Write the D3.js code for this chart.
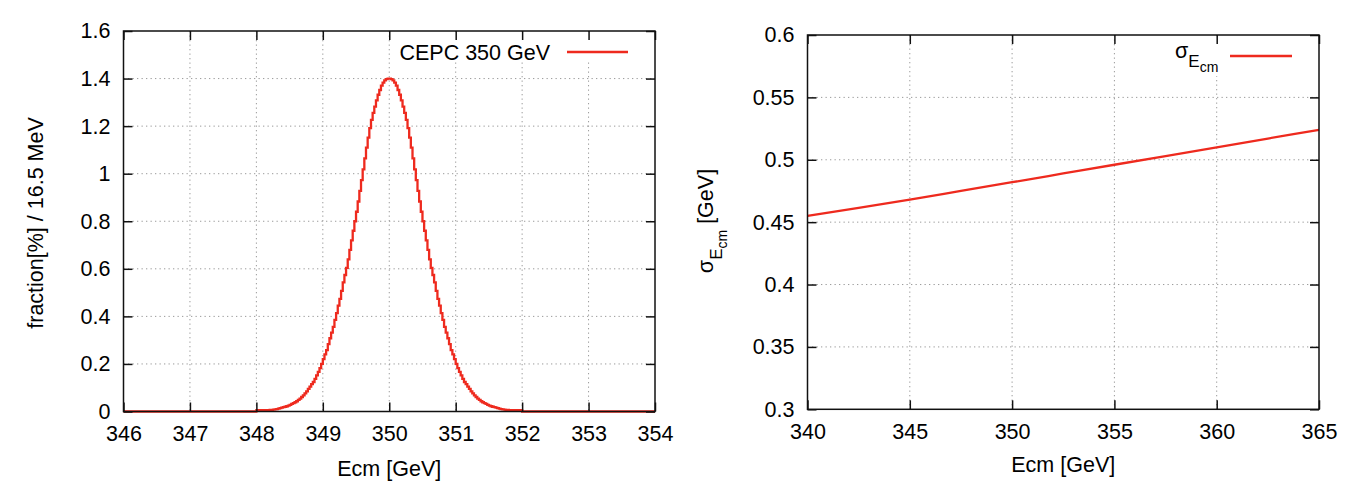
<!DOCTYPE html>
<html>
<head>
<meta charset="utf-8">
<script src="https://cdn.jsdelivr.net/npm/d3@7"></script>
<style>
  html, body { margin: 0; padding: 0; background: #fff; }
  svg text { font-family: "Liberation Sans", Arial, Helvetica, sans-serif; fill: #000; }
</style>
</head>
<body>
<svg id="chart" width="1361" height="484"></svg>
<script>
// ---------------- data ----------------
// Left panel: energy-spread histogram (fraction [%] per bin), bins start at 348.000 GeV, 0.025 GeV wide
const histBinStart = 348.0;
const histBinWidth = 0.025;
const histValues = [
  0.006, 0.006, 0.006, 0.006, 0.006, 0.006, 0.006, 0.006, 0.007, 0.007,
  0.008, 0.009, 0.010, 0.012, 0.014, 0.016, 0.018, 0.020, 0.022, 0.025,
  0.028, 0.032, 0.035, 0.039, 0.043, 0.049, 0.054, 0.061, 0.068, 0.076,
  0.085, 0.095, 0.105, 0.115, 0.124, 0.137, 0.152, 0.167, 0.182, 0.200,
  0.220, 0.240, 0.258, 0.283, 0.308, 0.332, 0.356, 0.385, 0.414, 0.445,
  0.474, 0.507, 0.543, 0.574, 0.604, 0.640, 0.680, 0.720, 0.760, 0.800,
  0.840, 0.883, 0.928, 0.973, 1.018, 1.064, 1.110, 1.152, 1.192, 1.226,
  1.256, 1.282, 1.308, 1.332, 1.352, 1.370, 1.383, 1.392, 1.398, 1.400,
  1.400, 1.398, 1.392, 1.383, 1.370, 1.352, 1.332, 1.308, 1.282, 1.256,
  1.226, 1.192, 1.152, 1.110, 1.064, 1.018, 0.973, 0.928, 0.883, 0.840,
  0.800, 0.760, 0.720, 0.680, 0.640, 0.604, 0.574, 0.543, 0.507, 0.474,
  0.445, 0.414, 0.385, 0.356, 0.332, 0.308, 0.283, 0.258, 0.240, 0.220,
  0.200, 0.182, 0.167, 0.152, 0.137, 0.124, 0.115, 0.105, 0.095, 0.085,
  0.076, 0.068, 0.061, 0.054, 0.049, 0.043, 0.039, 0.035, 0.032, 0.028,
  0.025, 0.022, 0.020, 0.018, 0.016, 0.014, 0.012, 0.010, 0.009, 0.008,
  0.007, 0.007, 0.006, 0.006, 0.006, 0.006, 0.006, 0.006, 0.006, 0.006
];
const leftXDomain = [346, 354];
const leftYDomain = [0, 1.6];
const leftXTicks = [346, 347, 348, 349, 350, 351, 352, 353, 354];
const leftYTicks = [0, 0.2, 0.4, 0.6, 0.8, 1, 1.2, 1.4, 1.6];
const leftLegend = "CEPC 350 GeV";

// Right panel: sigma_Ecm vs Ecm
const sigmaE = [340, 342.5, 345, 347.5, 350, 352.5, 355, 357.5, 360, 362.5, 365];
const sigmaV = [0.455, 0.4615, 0.468, 0.475, 0.482, 0.489, 0.496, 0.503, 0.510, 0.517, 0.524];
const rightXDomain = [340, 365];
const rightYDomain = [0.3, 0.6];
const rightXTicks = [340, 345, 350, 355, 360, 365];
const rightYTicks = [0.3, 0.35, 0.4, 0.45, 0.5, 0.55, 0.6];

// ---------------- drawing ----------------
const svg = d3.select("#chart");
const RED = "#ee2a1e";
const FS = 21.5;
const LW = 2.3;

function panel(o) {
  const g = svg.append("g");
  const x = d3.scaleLinear().domain(o.xDomain).range([o.left, o.right]);
  const y = d3.scaleLinear().domain(o.yDomain).range([o.bottom, o.top]);
  const w = o.right - o.left, h = o.bottom - o.top;

  // grid
  const grid = g.append("g").attr("class", "grid");
  grid.selectAll("line.gx").data(o.xTicks.slice(1, -1)).enter().append("line")
    .attr("x1", d => x(d)).attr("x2", d => x(d)).attr("y1", o.top).attr("y2", o.bottom);
  grid.selectAll("line.gy").data(o.yTicks.slice(1, -1)).enter().append("line")
    .attr("y1", d => y(d)).attr("y2", d => y(d)).attr("x1", o.left).attr("x2", o.right);
  grid.selectAll("line").attr("stroke", "#9a9a9a").attr("stroke-width", 1)
    .attr("stroke-dasharray", "1.3,3.2");

  // opaque key box
  g.append("rect").attr("x", o.keyBox[0]).attr("y", o.keyBox[1])
    .attr("width", o.keyBox[2]).attr("height", o.keyBox[3]).attr("fill", "#fff");

  // data
  o.drawData(g, x, y);

  // axes (ticks inward on all four sides)
  const tk = 9;
  const fmt = d => String(d);
  const ax = [
    g.append("g").attr("transform", `translate(0,${o.bottom})`)
      .call(d3.axisBottom(x).tickValues(o.xTicks).tickSize(-tk).tickPadding(14).tickFormat(fmt)),
    g.append("g").attr("transform", `translate(0,${o.top})`)
      .call(d3.axisTop(x).tickValues(o.xTicks).tickSize(-tk).tickFormat("")),
    g.append("g").attr("transform", `translate(${o.left},0)`)
      .call(d3.axisLeft(y).tickValues(o.yTicks).tickSize(-tk).tickPadding(13).tickFormat(fmt)),
    g.append("g").attr("transform", `translate(${o.right},0)`)
      .call(d3.axisRight(y).tickValues(o.yTicks).tickSize(-tk).tickFormat(""))
  ];
  ax.forEach(a => {
    a.select(".domain").remove();
    a.selectAll(".tick line").attr("stroke", "#111").attr("stroke-width", 1.5);
    a.selectAll("text").style("font-size", FS + "px").attr("fill", "#000");
  });
  g.append("rect").attr("x", o.left).attr("y", o.top).attr("width", w).attr("height", h)
    .attr("fill", "none").attr("stroke", "#111").attr("stroke-width", 1.5);

  // x title
  g.append("text").attr("x", (o.left + o.right) / 2).attr("y", o.xTitleY)
    .attr("text-anchor", "middle").style("font-size", FS + "px").text("Ecm [GeV]");

  return { g, x, y };
}

// Left panel
panel({
  left: 123.5, right: 655, top: 31, bottom: 411.5,
  xDomain: leftXDomain, yDomain: leftYDomain, xTicks: leftXTicks, yTicks: leftYTicks,
  xTitleY: 476,
  keyBox: [395, 32, 259, 30],
  drawData: (g, x, y) => {
    const pts = [[leftXDomain[0], 0], [histBinStart, 0]];
    histValues.forEach((v, i) => pts.push([histBinStart + i * histBinWidth, v]));
    const end = histBinStart + histValues.length * histBinWidth;
    pts.push([end, 0]);
    pts.push([leftXDomain[1], 0]);
    const line = d3.line().x(d => x(d[0])).y(d => y(d[1])).curve(d3.curveStepAfter);
    g.append("path").attr("d", line(pts)).attr("fill", "none")
      .attr("stroke", RED).attr("stroke-width", LW);
    // legend
    g.append("text").attr("x", 550).attr("y", 60).attr("text-anchor", "end")
      .style("font-size", FS + "px").text(leftLegend);
    g.append("line").attr("x1", 567).attr("x2", 628).attr("y1", 52).attr("y2", 52)
      .attr("stroke", RED).attr("stroke-width", LW);
  }
});
// left y title
svg.append("text").attr("transform", "translate(43,223) rotate(-90)")
  .attr("text-anchor", "middle").style("font-size", FS + "px").text("fraction[%] / 16.5 MeV");

// Right panel
panel({
  left: 807.5, right: 1319, top: 35, bottom: 409.3,
  xDomain: rightXDomain, yDomain: rightYDomain, xTicks: rightXTicks, yTicks: rightYTicks,
  xTitleY: 472,
  keyBox: [1168, 36, 150, 40],
  drawData: (g, x, y) => {
    const pts = sigmaE.map((e, i) => [e, sigmaV[i]]);
    const line = d3.line().x(d => x(d[0])).y(d => y(d[1])).curve(d3.curveMonotoneX);
    g.append("path").attr("d", line(pts)).attr("fill", "none")
      .attr("stroke", RED).attr("stroke-width", LW);
    // legend
    const t = g.append("text").attr("x", 1175).attr("y", 58).style("font-size", FS + "px");
    t.append("tspan").text("σ");
    t.append("tspan").attr("dy", 8.5).style("font-size", "17px").text("E");
    t.append("tspan").attr("dy", 5).style("font-size", "14px").text("cm");
    g.append("line").attr("x1", 1230).attr("x2", 1292).attr("y1", 56).attr("y2", 56)
      .attr("stroke", RED).attr("stroke-width", LW);
  }
});
// right y title
{
  const t = svg.append("text").attr("transform", "translate(713,221) rotate(-90)")
    .attr("text-anchor", "middle").style("font-size", FS + "px");
  t.append("tspan").text("σ");
  t.append("tspan").attr("dy", 8.5).style("font-size", "17px").text("E");
  t.append("tspan").attr("dy", 5).style("font-size", "14px").text("cm");
  t.append("tspan").attr("dy", -13.5).text(" [GeV]");
}
</script>
</body>
</html>
